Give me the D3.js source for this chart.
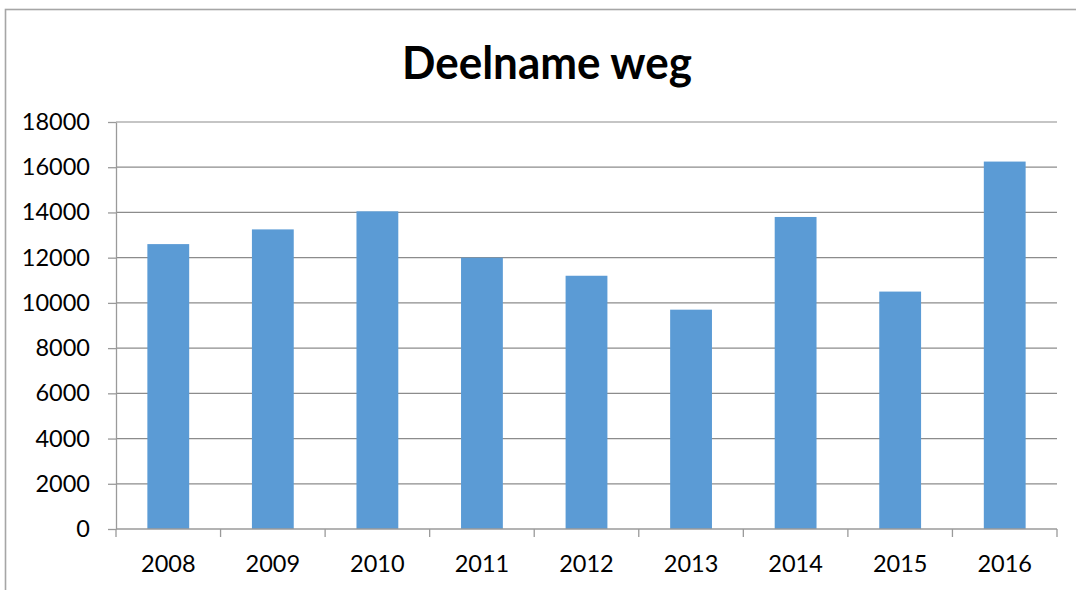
<!DOCTYPE html>
<html>
<head>
<meta charset="utf-8">
<script src="https://cdn.jsdelivr.net/npm/d3@7"></script>
<style>
  html, body { margin: 0; padding: 0; background: #fff; }
  svg { display: block; }
</style>
</head>
<body>
<svg id="chart" width="1076" height="590"></svg>
<script>
const title = "Deelname weg";
const categories = ["2008", "2009", "2010", "2011", "2012", "2013", "2014", "2015", "2016"];
const values = [12600, 13250, 14050, 12000, 11200, 9700, 13800, 10500, 16250];
const yTicks = [0, 2000, 4000, 6000, 8000, 10000, 12000, 14000, 16000, 18000];

const svg = d3.select("#chart");
const W = 1076, H = 590;
const plot = { left: 116, right: 1057, top: 122, bottom: 529 };

// chart border (extends past right/bottom edges)
svg.append("rect")
  .attr("x", 5.5).attr("y", 9.5)
  .attr("width", W + 20).attr("height", H + 20)
  .attr("fill", "#fff").attr("stroke", "#a6a6a6").attr("stroke-width", 1.6);

const x = d3.scaleBand().domain(categories).range([plot.left, plot.right]).paddingInner(0).paddingOuter(0);
const y = d3.scaleLinear().domain([0, 18000]).range([plot.bottom, plot.top]);

// gridlines
svg.append("g").selectAll("line")
  .data(yTicks.filter(d => d > 0))
  .join("line")
  .attr("x1", plot.left).attr("x2", plot.right)
  .attr("y1", d => y(d)).attr("y2", d => y(d))
  .attr("stroke", "#8c8c8c").attr("stroke-width", 1.2);

// bars
const barFrac = 0.4;
svg.append("g").selectAll("rect")
  .data(categories.map((c, i) => ({ c, v: values[i] })))
  .join("rect")
  .attr("x", d => x(d.c) + x.bandwidth() * (1 - barFrac) / 2)
  .attr("width", x.bandwidth() * barFrac)
  .attr("y", d => y(d.v))
  .attr("height", d => y(0) - y(d.v))
  .attr("fill", "#5b9bd5");

// y axis
const yAxis = d3.axisLeft(y).tickValues(yTicks).tickSize(8).tickSizeOuter(0).tickPadding(18).tickFormat(d3.format("d"));
const gy = svg.append("g").attr("transform", `translate(${plot.left},0)`).call(yAxis);
gy.select(".domain").attr("stroke", "#9a9a9a").attr("stroke-width", 1.3);
gy.selectAll(".tick line").attr("stroke", "#9a9a9a").attr("stroke-width", 1.3);
gy.selectAll(".tick text")
  .attr("font-family", "Lato, 'Open Sans', sans-serif")
  .attr("font-size", 23.5).attr("fill", "#000");

// x axis line
svg.append("line")
  .attr("x1", plot.left).attr("x2", plot.right)
  .attr("y1", plot.bottom).attr("y2", plot.bottom)
  .attr("stroke", "#9a9a9a").attr("stroke-width", 1.3);

// x ticks at category boundaries
const bounds = categories.map(c => x(c)).concat([x(categories[categories.length - 1]) + x.step()]);
svg.append("g").selectAll("line")
  .data(bounds)
  .join("line")
  .attr("x1", d => d).attr("x2", d => d)
  .attr("y1", plot.bottom).attr("y2", plot.bottom + 8)
  .attr("stroke", "#9a9a9a").attr("stroke-width", 1.3);

// x labels
svg.append("g").selectAll("text")
  .data(categories)
  .join("text")
  .attr("x", d => x(d) + x.bandwidth() / 2)
  .attr("y", 572)
  .attr("text-anchor", "middle")
  .attr("font-family", "Lato, 'Open Sans', sans-serif")
  .attr("font-size", 23.5).attr("fill", "#000")
  .text(d => d);

// title
svg.append("text")
  .attr("x", 547).attr("y", 79)
  .attr("text-anchor", "middle")
  .attr("font-family", "Lato, 'Open Sans', sans-serif")
  .attr("font-weight", "bold")
  .attr("font-size", 46)
  .attr("textLength", 290).attr("lengthAdjust", "spacingAndGlyphs")
  .attr("fill", "#000")
  .text(title);
</script>
</body>
</html>
